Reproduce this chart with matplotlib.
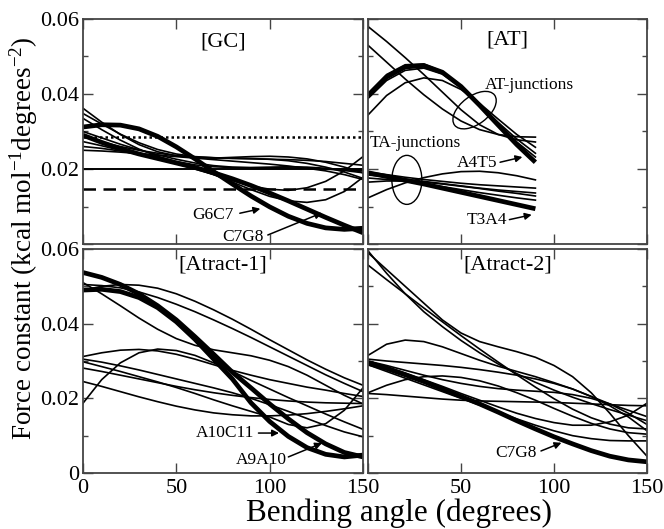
import numpy as np
import matplotlib.pyplot as plt
from matplotlib.patches import Ellipse
from matplotlib.transforms import ScaledTranslation

plt.rcParams['font.family'] = ['Liberation Serif', 'DejaVu Serif']
plt.rcParams['mathtext.fontset'] = 'custom'
plt.rcParams['mathtext.rm'] = 'Liberation Serif'
plt.rcParams['mathtext.it'] = 'Liberation Serif:italic'

# bending angles (degrees) the curves were read at
angle = [0, 10, 20, 30, 40, 50, 60, 70, 80, 90, 100, 110, 120, 130, 140, 150]
angle_at = [0, 10, 20, 30, 40, 50, 60, 70, 80, 90]

# ---- [GC] ----
gc_thin = [
    [0.0362, 0.0325, 0.0292, 0.0265, 0.0246, 0.0235, 0.0230, 0.0229, 0.0231, 0.0233, 0.0234, 0.0232, 0.0227, 0.0218, 0.0205, 0.0190],
    [0.0348, 0.0320, 0.0293, 0.0270, 0.0252, 0.0240, 0.0233, 0.0230, 0.0228, 0.0227, 0.0226, 0.0225, 0.0223, 0.0220, 0.0215, 0.0210],
    [0.0335, 0.0305, 0.0277, 0.0253, 0.0234, 0.0220, 0.0211, 0.0206, 0.0204, 0.0204, 0.0205, 0.0206, 0.0205, 0.0202, 0.0198, 0.0195],
    [0.0273, 0.0262, 0.0250, 0.0238, 0.0226, 0.0214, 0.0200, 0.0185, 0.0169, 0.0155, 0.0146, 0.0143, 0.0150, 0.0167, 0.0195, 0.0233],
    [0.0260, 0.0255, 0.0248, 0.0240, 0.0230, 0.0218, 0.0203, 0.0185, 0.0165, 0.0145, 0.0127, 0.0115, 0.0111, 0.0118, 0.0140, 0.0178],
    [0.0286, 0.0272, 0.0260, 0.0250, 0.0242, 0.0236, 0.0232, 0.0230, 0.0229, 0.0228, 0.0226, 0.0222, 0.0215, 0.0205, 0.0192, 0.0175],
    [0.0250, 0.0248, 0.0245, 0.0241, 0.0237, 0.0233, 0.0229, 0.0225, 0.0221, 0.0217, 0.0213, 0.0208, 0.0202, 0.0195, 0.0185, 0.0172],
    [0.0300, 0.0283, 0.0266, 0.0251, 0.0238, 0.0226, 0.0216, 0.0209, 0.0205, 0.0203, 0.0203, 0.0203, 0.0202, 0.0200, 0.0196, 0.0190],
]
gc_thick = [
    [0.0312, 0.0318, 0.0317, 0.0307, 0.0287, 0.0259, 0.0227, 0.0193, 0.0160, 0.0128, 0.0099, 0.0074, 0.0055, 0.0043, 0.0039, 0.0042],
    [0.0290, 0.0271, 0.0254, 0.0240, 0.0228, 0.0216, 0.0204, 0.0190, 0.0174, 0.0156, 0.0136, 0.0115, 0.0093, 0.0071, 0.0050, 0.0030],
]
gc_dotted = 0.0285
gc_solid = 0.0200
gc_dashed = 0.0147

# ---- [AT] ----
at_thin = [
    [0.0388, 0.0436, 0.0463, 0.0469, 0.0453, 0.0418, 0.0372, 0.0324, 0.0280, 0.0242],
    [0.0402, 0.0452, 0.0478, 0.0480, 0.0460, 0.0422, 0.0372, 0.0320, 0.0272, 0.0232],
    [0.0344, 0.0396, 0.0430, 0.0443, 0.0436, 0.0412, 0.0375, 0.0333, 0.0292, 0.0258],
    [0.0580, 0.0540, 0.0497, 0.0452, 0.0405, 0.0358, 0.0318, 0.0292, 0.0278, 0.0272],
    [0.0530, 0.0485, 0.0440, 0.0398, 0.0360, 0.0328, 0.0305, 0.0292, 0.0286, 0.0285],
    [0.0192, 0.0185, 0.0178, 0.0172, 0.0167, 0.0162, 0.0158, 0.0155, 0.0152, 0.0149],
    [0.0184, 0.0179, 0.0173, 0.0167, 0.0161, 0.0155, 0.0149, 0.0144, 0.0140, 0.0136],
    [0.0176, 0.0172, 0.0167, 0.0160, 0.0153, 0.0145, 0.0137, 0.0130, 0.0123, 0.0117],
    [0.0123, 0.0145, 0.0163, 0.0177, 0.0187, 0.0193, 0.0194, 0.0190, 0.0182, 0.0171],
    [0.0165, 0.0168, 0.0168, 0.0165, 0.0160, 0.0154, 0.0148, 0.0141, 0.0135, 0.0128],
]
at_thick = [
    [0.0395, 0.0445, 0.0472, 0.0476, 0.0458, 0.0420, 0.0370, 0.0317, 0.0265, 0.0218],  # A4T5
    [0.0190, 0.0180, 0.0170, 0.0160, 0.0149, 0.0138, 0.0127, 0.0116, 0.0105, 0.0094],  # T3A4
]

# ---- [Atract-1] ----
a1_thin = [
    [0.0490, 0.0500, 0.0505, 0.0503, 0.0495, 0.0480, 0.0460, 0.0437, 0.0412, 0.0385, 0.0357, 0.0330, 0.0303, 0.0278, 0.0255, 0.0235],
    [0.0505, 0.0502, 0.0496, 0.0485, 0.0470, 0.0452, 0.0432, 0.0410, 0.0387, 0.0363, 0.0338, 0.0313, 0.0288, 0.0263, 0.0240, 0.0218],
    [0.0510, 0.0480, 0.0448, 0.0415, 0.0385, 0.0360, 0.0342, 0.0330, 0.0322, 0.0314, 0.0302, 0.0285, 0.0262, 0.0235, 0.0208, 0.0185],
    [0.0187, 0.0250, 0.0295, 0.0322, 0.0332, 0.0328, 0.0315, 0.0295, 0.0272, 0.0248, 0.0225, 0.0202, 0.0180, 0.0158, 0.0137, 0.0117],
    [0.0312, 0.0322, 0.0329, 0.0331, 0.0327, 0.0318, 0.0305, 0.0290, 0.0275, 0.0262, 0.0250, 0.0240, 0.0230, 0.0222, 0.0213, 0.0205],
    [0.0298, 0.0285, 0.0272, 0.0258, 0.0244, 0.0229, 0.0213, 0.0196, 0.0180, 0.0165, 0.0150, 0.0130, 0.0121, 0.0132, 0.0168, 0.0228],
    [0.0281, 0.0272, 0.0262, 0.0252, 0.0242, 0.0232, 0.0223, 0.0215, 0.0208, 0.0202, 0.0197, 0.0193, 0.0190, 0.0188, 0.0187, 0.0186],
    [0.0245, 0.0232, 0.0218, 0.0204, 0.0191, 0.0179, 0.0169, 0.0161, 0.0156, 0.0153, 0.0153, 0.0155, 0.0159, 0.0165, 0.0172, 0.0180],
    [0.0305, 0.0297, 0.0287, 0.0276, 0.0264, 0.0252, 0.0240, 0.0228, 0.0215, 0.0200, 0.0183, 0.0165, 0.0146, 0.0127, 0.0110, 0.0097],
]
a1_thick = [
    [0.0537, 0.0524, 0.0505, 0.0480, 0.0448, 0.0410, 0.0365, 0.0318, 0.0270, 0.0228, 0.0185, 0.0145, 0.0108, 0.0078, 0.0055, 0.0043],
    [0.0490, 0.0492, 0.0486, 0.0470, 0.0443, 0.0405, 0.0358, 0.0305, 0.0252, 0.0188, 0.0138, 0.0098, 0.0068, 0.0050, 0.0043, 0.0048],
]

# ---- [Atract-2] ----
a2_thin = [
    [0.0595, 0.0535, 0.0480, 0.0432, 0.0392, 0.0355, 0.0322, 0.0292, 0.0266, 0.0243, 0.0222, 0.0203, 0.0186, 0.0170, 0.0155, 0.0140],
    [0.0590, 0.0545, 0.0500, 0.0455, 0.0410, 0.0375, 0.0352, 0.0338, 0.0325, 0.0310, 0.0288, 0.0258, 0.0215, 0.0160, 0.0100, 0.0045],
    [0.0557, 0.0518, 0.0480, 0.0442, 0.0405, 0.0368, 0.0332, 0.0297, 0.0263, 0.0230, 0.0199, 0.0171, 0.0148, 0.0131, 0.0121, 0.0118],
    [0.0315, 0.0345, 0.0356, 0.0352, 0.0338, 0.0320, 0.0302, 0.0286, 0.0272, 0.0258, 0.0242, 0.0225, 0.0205, 0.0185, 0.0168, 0.0151],
    [0.0305, 0.0300, 0.0296, 0.0292, 0.0288, 0.0283, 0.0277, 0.0270, 0.0262, 0.0252, 0.0240, 0.0225, 0.0205, 0.0180, 0.0150, 0.0113],
    [0.0300, 0.0288, 0.0275, 0.0262, 0.0250, 0.0240, 0.0232, 0.0226, 0.0222, 0.0219, 0.0216, 0.0210, 0.0200, 0.0185, 0.0160, 0.0130],
    [0.0213, 0.0210, 0.0206, 0.0202, 0.0198, 0.0195, 0.0193, 0.0192, 0.0191, 0.0190, 0.0189, 0.0187, 0.0185, 0.0183, 0.0181, 0.0180],
    [0.0215, 0.0235, 0.0250, 0.0258, 0.0260, 0.0256, 0.0247, 0.0233, 0.0215, 0.0195, 0.0173, 0.0152, 0.0133, 0.0118, 0.0108, 0.0104],
    [0.0300, 0.0285, 0.0268, 0.0250, 0.0232, 0.0213, 0.0195, 0.0177, 0.0160, 0.0146, 0.0135, 0.0128, 0.0128, 0.0137, 0.0155, 0.0187],
    [0.0290, 0.0272, 0.0254, 0.0236, 0.0218, 0.0200, 0.0182, 0.0163, 0.0145, 0.0128, 0.0113, 0.0100, 0.0092, 0.0087, 0.0086, 0.0086],
]
a2_thick = [
    [0.0294, 0.0280, 0.0263, 0.0245, 0.0225, 0.0205, 0.0185, 0.0163, 0.0140, 0.0118, 0.0097, 0.0078, 0.0060, 0.0045, 0.0035, 0.0030],
]

THIN = 1.2
THICK = 3.4
SPINE = '#444444'

fig = plt.figure(figsize=(6.64, 5.29), dpi=100)
W, H = 664.0, 529.0


def make_ax(x0, y0, x1, y1):
    ax = fig.add_axes([x0 / W, 1 - y1 / H, (x1 - x0) / W, (y1 - y0) / H])
    ax.set_xlim(0, 150)
    ax.set_ylim(0, 0.06)
    ax.set_xticks([0, 50, 100, 150])
    ax.set_yticks([0, 0.02, 0.04, 0.06])
    ax.set_yticks([0.01, 0.03, 0.05], minor=True)
    ax.tick_params(which='both', direction='in', top=True, right=True,
                   color=SPINE, labelsize=16, width=1.0)
    ax.tick_params(which='major', length=7, pad=3)
    ax.tick_params(which='minor', length=3.5)
    ax.tick_params(axis='x', pad=4)
    for s in ax.spines.values():
        s.set_color(SPINE)
        s.set_linewidth(1.3)
    return ax


ax_gc = make_ax(83, 19, 363, 244)
ax_at = make_ax(368, 19, 647, 244)
ax_a1 = make_ax(83, 249, 363, 473)
ax_a2 = make_ax(368, 249, 647, 473)

ytl = ['0', '0.02', '0.04', '0.06']
ax_gc.set_yticklabels([''] + ytl[1:])
ax_a1.set_yticklabels(ytl)
ax_at.set_yticklabels([])
ax_a2.set_yticklabels([])
ax_gc.set_xticklabels([])
ax_at.set_xticklabels([])
ax_a1.set_xticklabels(['0', '50', '100', '150'])
ax_a2.set_xticklabels(['', '50', '100', '150'])

# curves
for ax, thin, thick, xs in [(ax_gc, gc_thin, gc_thick, angle),
                            (ax_at, at_thin, at_thick, angle_at),
                            (ax_a1, a1_thin, a1_thick, angle),
                            (ax_a2, a2_thin, a2_thick, angle)]:
    for yv in thin:
        ax.plot(xs, yv, color='black', lw=THIN, solid_joinstyle='round')
    for yv in thick:
        ax.plot(xs, yv, color='black', lw=THICK, solid_joinstyle='round',
                solid_capstyle='butt')

ax_gc.axhline(gc_dotted, color='black', lw=1.8, ls=(0, (1, 1.2)))
ax_gc.axhline(gc_solid, color='black', lw=1.4)
ax_gc.axhline(gc_dashed, color='black', lw=1.8, ls=(0, (5, 3)))

# panel titles
ax_gc.text(75, 0.0539, '[GC]', ha='center', va='center', fontsize=16)
ax_at.text(75, 0.0544, '[AT]', ha='center', va='center', fontsize=16)
ax_a1.text(75, 0.0557, '[Atract-1]', ha='center', va='center', fontsize=16)
ax_a2.text(75, 0.0557, '[Atract-2]', ha='center', va='center', fontsize=16)

arrow = dict(arrowstyle='-|>', color='black', lw=1.1, mutation_scale=10,
             shrinkA=0, shrinkB=0)


def label(ax, txt, tx, ty, tail, head, ha='center'):
    ax.text(tx, ty, txt, ha=ha, va='center', fontsize=12.5)
    ax.annotate('', xy=head, xytext=tail, arrowprops=arrow)


label(ax_gc, 'G6C7', 80.5, 0.0077, (84, 0.0082), (95, 0.0094), ha='right')
label(ax_gc, 'C7G8', 85.7, 0.0019, (99, 0.0024), (128, 0.0083))
label(ax_at, 'A4T5', 58.9, 0.0216, (71, 0.0218), (83, 0.0232))
label(ax_at, 'T3A4', 63.7, 0.0064, (76, 0.0065), (88, 0.0078))
label(ax_a1, 'A10C11', 76, 0.0107, (94, 0.0107), (105, 0.0107))
label(ax_a1, 'A9A10', 95.3, 0.0035, (110, 0.0043), (128, 0.0080))
label(ax_a2, 'C7G8', 79.8, 0.0054, (93, 0.0059), (104, 0.0081))

ax_at.text(62.7, 0.0424, 'AT-junctions', ha='left', va='center', fontsize=12.5)
ax_at.text(1.0, 0.0269, 'TA-junctions', ha='left', va='center', fontsize=12.5)

# ellipses drawn in inches around a data point
for cx, cy, w, h, ang in [(57.3, 0.0357, 0.50, 0.28, 37), (20.9, 0.0171, 0.30, 0.49, 0)]:
    tr = fig.dpi_scale_trans + ScaledTranslation(cx, cy, ax_at.transData)
    ax_at.add_patch(Ellipse((0, 0), w, h, angle=ang, transform=tr,
                            fill=False, ec='black', lw=1.0))

fig.text(24 / W, 1 - 238 / H,
         'Force constant (kcal mol$^{-1}$degrees$^{-2}$)',
         rotation=90, ha='center', va='center', fontsize=19.5)
fig.text(399 / W, 1 - 513 / H, 'Bending angle (degrees)',
         ha='center', va='center', fontsize=22.5)

fig.savefig('out.png', dpi=100)
